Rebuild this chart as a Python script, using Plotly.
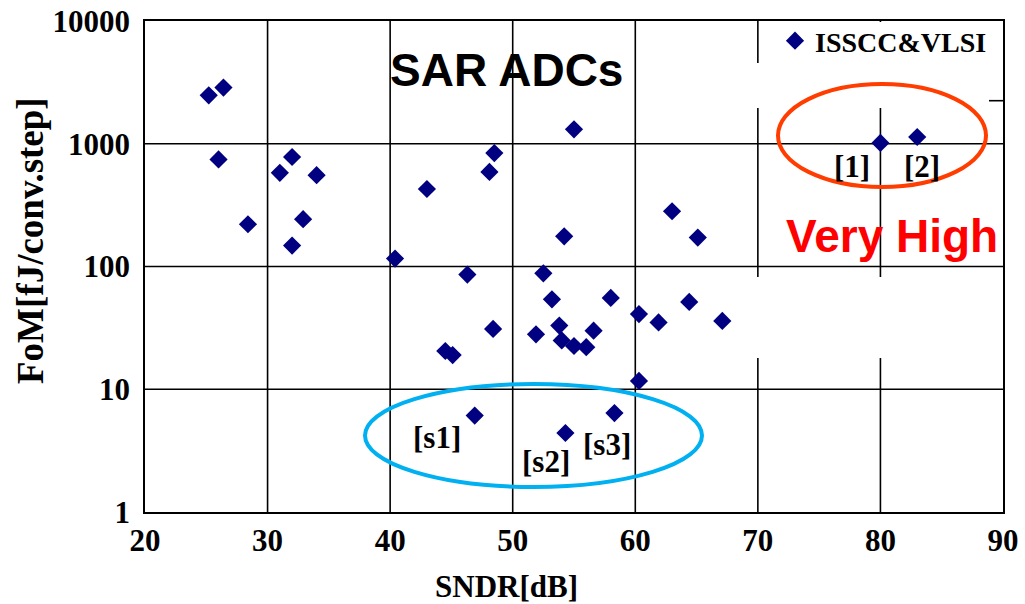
import math
import plotly.graph_objects as go

# SAR ADC survey: SNDR [dB] vs. Walden FoM [fJ/conv.step]
sndr = [25.2, 26.4, 26.0, 32.0, 31.0, 34.0, 28.4, 32.9, 32.0, 43.0,
        48.5, 48.1, 55.0, 40.4, 46.3, 52.5, 54.2, 53.2, 58.0, 64.4,
        60.3, 61.9, 67.1, 48.4, 51.9, 53.8, 56.6, 54.0, 55.0, 56.0,
        44.5, 45.1, 60.3, 46.9, 54.3, 58.3, 80.0, 83.0, 65.1, 63.0]
fom = [2480, 2870, 745, 780, 580, 555, 221, 243, 148, 428,
       840, 590, 1310, 116, 86, 88, 176, 54, 55.5, 51.5,
       41, 35, 36, 31, 28, 33, 30, 25, 22.5, 22,
       20.5, 19, 11.7, 6.1, 4.4, 6.4, 1015, 1135, 172, 282]

x_ticks = [20, 30, 40, 50, 60, 70, 80, 90]
y_ticks = [1, 10, 100, 1000, 10000]
y_ticktext = ["1", "10", "100", "1000", "10000"]
y_range_log = [0, 4]

# plot area in pixels
W, H = 1025, 604
L, R, T, B = 145, 1003, 21, 512


def px(xp):
    return (xp - L) / (R - L)


def py(yp):
    return (B - yp) / (B - T)


serif = "Liberation Serif, Times New Roman, serif"
sans = "Liberation Sans, Arial, sans-serif"
grid_line = dict(color="black", width=1.6)

fig = go.Figure()
fig.add_trace(go.Scatter(
    x=sndr, y=fom, mode="markers", name="ISSCC&VLSI",
    marker=dict(symbol="diamond", size=14, color="#000080",
                line=dict(width=0)),
))

shapes = []
# grid drawn as shapes so the blank panels below can sit on top of it
for v in x_ticks[1:-1]:
    shapes.append(dict(type="line", xref="x", yref="paper", x0=v, x1=v,
                       y0=0, y1=1, line=grid_line, layer="below"))
for v in y_ticks[1:-1]:
    f = (math.log10(v) - y_range_log[0]) / (y_range_log[1] - y_range_log[0])
    shapes.append(dict(type="line", xref="paper", yref="paper", x0=0, x1=1,
                       y0=f, y1=f, line=grid_line, layer="below"))


def white_box(x0, x1, y0, y1):
    return dict(type="rect", xref="paper", yref="paper",
                x0=px(x0), x1=px(x1), y0=py(y1), y1=py(y0),
                fillcolor="white", line=dict(width=0), layer="below")


shapes += [
    white_box(765, 995, 22, 100),
    white_box(745, 900, 63, 108),
    white_box(700, 950, 277, 358),
    dict(type="line", xref="paper", yref="paper", x0=px(989), x1=px(1003),
         y0=py(100.7), y1=py(100.7), line=grid_line),
    # highlight ellipses
    dict(type="circle", xref="paper", yref="paper", x0=px(778), x1=px(986),
         y0=py(187), y1=py(84), line=dict(color="#FF3D00", width=4)),
    dict(type="circle", xref="paper", yref="paper", x0=px(365), x1=px(702),
         y0=py(487), y1=py(384), line=dict(color="#00B0F0", width=4)),
]


def label(text, xp, yp, size=31, family=serif, color="black", angle=0):
    return dict(text=text, xref="paper", yref="paper", x=px(xp), y=py(yp),
                xanchor="center", yanchor="middle", showarrow=False,
                textangle=angle,
                font=dict(family=family, size=size, color=color, weight="bold"))


annotations = [
    label("SAR ADCs", 506, 70, size=46, family=sans),
    label("Very High", 892, 236, size=46, family=sans, color="#FF0000"),
    label("[s1]", 437, 437),
    label("[s2]", 546, 461),
    label("[s3]", 607, 444),
    label("[1]", 852, 167),
    label("[2]", 922, 167),
    label("SNDR[dB]", 506, 586, size=31),
    label("FoM[fJ/conv.step]", 30, 240, size=37, angle=-90),
]

fig.update_layout(
    width=W, height=H,
    margin=dict(l=L, r=W - R, t=T, b=H - B, pad=0, autoexpand=False),
    paper_bgcolor="white", plot_bgcolor="white",
    showlegend=True,
    legend=dict(x=px(775), y=py(16), xanchor="left", yanchor="top",
                bgcolor="rgba(0,0,0,0)",
                font=dict(family=serif, size=28, color="black", weight="bold")),
    shapes=shapes,
    annotations=annotations,
    xaxis=dict(range=[20, 90], tickvals=x_ticks, showgrid=False,
               zeroline=False,
               showline=True, mirror=True, linecolor="black", linewidth=1.6,
               ticks="", ticklabelstandoff=0, automargin=False,
               tickfont=dict(family=serif, size=31, color="black", weight="bold")),
    yaxis=dict(type="log", range=y_range_log, tickvals=y_ticks,
               ticktext=y_ticktext, showgrid=False, zeroline=False,
               showline=True, mirror=True, linecolor="black", linewidth=1.6,
               ticks="", ticklabelstandoff=7, automargin=False,
               tickfont=dict(family=serif, size=31, color="black", weight="bold")),
)

fig.write_html("out.html")
